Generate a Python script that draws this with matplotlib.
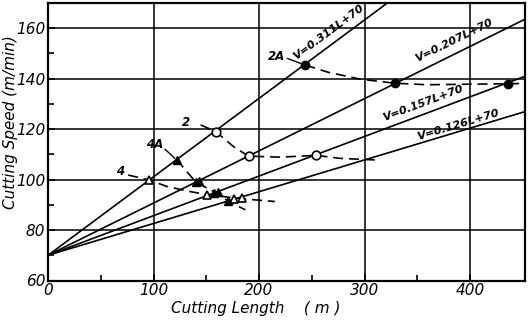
import numpy as np
import matplotlib
matplotlib.use("Agg")
import matplotlib.pyplot as plt

# ---- data ----
slopes = [0.311, 0.207, 0.157, 0.126]
intercept = 70
line_labels = ["V=0.311L+70", "V=0.207L+70", "V=0.157L+70", "V=0.126L+70"]
label_pos_L = [265.5, 385.0, 355.0, 389.0]
label_pos_V = [158.6, 155.0, 130.2, 121.8]

# curve 2A (filled circles)
c2A_L = [244, 265, 296, 329, 359, 436, 454]
c2A_V = [145.4, 142.6, 139.8, 138.2, 137.6, 138.0, 138.1]
c2A_mL = [244, 329, 436]
c2A_mV = [145.4, 138.2, 138.0]

# curve 2 (open circles)
c2_L = [144.6, 159, 176, 190, 220, 254, 277, 310]
c2_V = [121.7, 119.0, 113.0, 109.3, 108.9, 109.6, 108.4, 107.8]
c2_mL = [159, 190, 254]
c2_mV = [119.0, 109.3, 109.6]

# curve 4 (open triangles)
c4_L = [76, 95.5, 112.5, 134, 151, 184, 215]
c4_V = [101.8, 99.9, 97.3, 95.3, 94.0, 92.4, 91.3]
c4_mL = [95.5, 151, 176, 184]
c4_mV = [99.9, 94.0, 92.4, 92.6]

# curve 4A (filled triangles)
c4A_L = [122, 140, 159, 171, 187]
c4A_V = [107.9, 99.0, 94.8, 91.4, 88.0]
c4A_mL = [122, 140, 143, 157, 161, 171]
c4A_mV = [107.9, 99.0, 99.3, 94.8, 95.0, 91.4]

xticks = [0, 100, 200, 300, 400]
yticks = [60, 80, 100, 120, 140, 160]

plt.rcParams['font.family'] = ['DejaVu Sans']

fig = plt.figure(figsize=(5.30, 3.28), dpi=100)
ax = fig.add_axes([48/530, 1-280.5/328, (525-48)/530, (280.5-3)/328])
ax.set_xlim(0, 452)
ax.set_ylim(60, 170)

# grid
for xv in xticks[1:]:
    ax.axvline(xv, color='black', lw=1.1, zorder=1)
for yv in yticks[1:]:
    ax.axhline(yv, color='black', lw=1.1, zorder=1)

# straight lines
Lx = np.array([0, 452])
for a in slopes:
    ax.plot(Lx, a*Lx + intercept, color='black', lw=1.2, zorder=2)

for txt, a, lx, ly in zip(line_labels, slopes, label_pos_L, label_pos_V):
    ax.text(lx, ly, txt, rotation=np.degrees(np.arctan(a)), transform_rotates_text=True,
            rotation_mode='anchor', ha='center', va='center', fontsize=8,
            style='italic', fontweight='bold', zorder=5)

dash = (0, (6, 3.5))
ax.plot(c2A_L, c2A_V, color='black', lw=1.2, linestyle=dash, zorder=3)
ax.plot(c2A_mL, c2A_mV, 'o', color='black', ms=6, zorder=4)

ax.plot(c2_L, c2_V, color='black', lw=1.2, linestyle=dash, zorder=3)
ax.plot(c2_mL, c2_mV, 'o', mfc='white', mec='black', mew=1.2, ms=6.2, zorder=4)

ax.plot(c4_L, c4_V, color='black', lw=1.2, linestyle=dash, zorder=3)
ax.plot(c4_mL, c4_mV, '^', mfc='white', mec='black', mew=1.2, ms=6, zorder=4)

ax.plot(c4A_L, c4A_V, color='black', lw=1.2, linestyle=dash, zorder=3)
ax.plot(c4A_mL, c4A_mV, '^', color='black', ms=6, zorder=4)

# curve labels with leaders
lab_kw = dict(ha='center', va='center', fontsize=8.5, style='italic', fontweight='bold')
ax.text(217, 148.7, "2A", **lab_kw)
ax.plot([227, 241], [148.0, 145.8], color='black', lw=1.0)
ax.text(131, 122.8, "2", **lab_kw)
ax.text(101, 113.9, "4A", **lab_kw)
ax.plot([111, 120], [112.0, 108.5], color='black', lw=1.0)
ax.text(68, 103.2, "4", **lab_kw)

ax.set_xticks(xticks)
ax.set_yticks(yticks)
ax.set_xticks([50, 150, 250, 350], minor=True)
ax.set_yticks([70, 90, 110, 130, 150, 170], minor=True)
ax.tick_params(which='both', direction='in', color='black', width=1.2)
ax.tick_params(which='major', length=5, pad=2, labelsize=11)
ax.tick_params(which='minor', length=4)
for lab in ax.get_xticklabels() + ax.get_yticklabels():
    lab.set_fontstyle('italic')
for sp in ax.spines.values():
    sp.set_linewidth(1.6)

fig.text(256/530, 1-309/328, "Cutting Length    ( m )", ha='center', va='center',
         fontsize=11, style='italic')
fig.text(11/530, 1-122/328, "Cutting Speed (m/min)", ha='center', va='center',
         fontsize=11, style='italic', rotation=90)

fig.savefig("out.png", dpi=100)
